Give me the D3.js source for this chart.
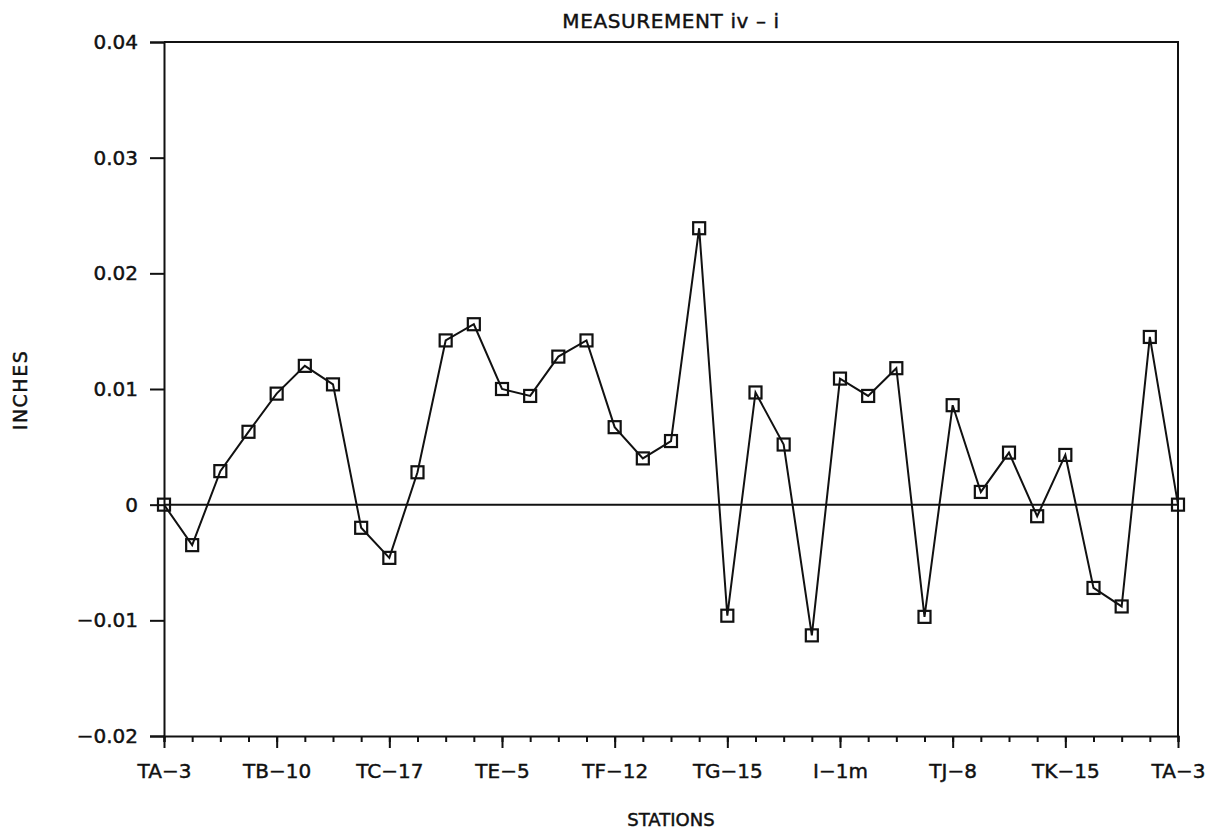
<!DOCTYPE html>
<html>
<head>
<meta charset="utf-8">
<script src="https://d3js.org/d3.v7.min.js"></script>
<style>
  body { margin: 0; background: #fff; }
  svg text { font-family: "DejaVu Sans", sans-serif; fill: #111; stroke: #111; stroke-width: 0.45px; }
</style>
</head>
<body>
<script>
// readings, one per station along the traverse (inches)
var values = [0, -0.0035, 0.0029, 0.0063, 0.0096, 0.0120, 0.0104, -0.0020, -0.0046,
    0.0028, 0.0142, 0.0156, 0.0100, 0.0094, 0.0128, 0.0142, 0.0067, 0.0040, 0.0055,
    0.0239, -0.0096, 0.0097, 0.0052, -0.0113, 0.0109, 0.0094, 0.0118, -0.0097,
    0.0086, 0.0011, 0.0045, -0.0010, 0.0043, -0.0072, -0.0088, 0.0145, 0];
// labelled stations, every 4th point
var stationLabels = ["TA-3", "TB-10", "TC-17", "TE-5", "TF-12", "TG-15", "I-1m", "TJ-8", "TK-15", "TA-3"];
var yTicks = [-0.02, -0.01, 0, 0.01, 0.02, 0.03, 0.04];

var W = 1209, H = 831;
var plotL = 164, plotR = 1178, plotT = 42, plotB = 736;

var svg = d3.select("body").append("svg").attr("width", W).attr("height", H);

var x = d3.scaleLinear().domain([0, values.length - 1]).range([plotL, plotR]);
var y = d3.scaleLinear().domain([-0.02, 0.04]).range([plotB, plotT]);

var dash = function (s) { return s.replace(/-/g, "\u2212"); };

// frame (top + right)
svg.append("path")
    .attr("d", "M" + plotL + "," + y(0.04) + "H" + plotR + "V" + plotB)
    .attr("fill", "none").attr("stroke", "#111").attr("stroke-width", 2);

// zero line
svg.append("line")
    .attr("x1", plotL).attr("x2", plotR)
    .attr("y1", y(0)).attr("y2", y(0))
    .attr("stroke", "#111").attr("stroke-width", 2);

// y axis
var yAxis = svg.append("g")
    .attr("transform", "translate(" + plotL + ",0)")
    .call(d3.axisLeft(y).tickValues(yTicks).tickSize(14).tickPadding(12)
        .tickFormat(function (d) { return d === 0 ? "0" : dash(d3.format(".2f")(d)); }));
yAxis.select(".domain").attr("stroke-width", 2).attr("stroke", "#111");
yAxis.selectAll(".tick line").attr("stroke-width", 2).attr("stroke", "#111");
yAxis.selectAll(".tick text").style("font-size", "20px").attr("font-family", null);

// x axis: minor ticks every station, major with labels every 4th
var minor = d3.range(values.length);
var xMinor = svg.append("g")
    .attr("transform", "translate(0," + plotB + ")")
    .call(d3.axisBottom(x).tickValues(minor).tickSize(6).tickFormat(""));
xMinor.select(".domain").attr("stroke-width", 2).attr("stroke", "#111");
xMinor.selectAll(".tick line").attr("stroke-width", 2).attr("stroke", "#111");

var major = stationLabels.map(function (d, i) { return i * 4; });
var xMajor = svg.append("g")
    .attr("transform", "translate(0," + plotB + ")")
    .call(d3.axisBottom(x).tickValues(major).tickSize(12).tickPadding(16)
        .tickFormat(function (d) { return dash(stationLabels[d / 4]); }));
xMajor.select(".domain").remove();
xMajor.selectAll(".tick line").attr("stroke-width", 2).attr("stroke", "#111");
xMajor.selectAll(".tick text").style("font-size", "20px").attr("font-family", null);

// series line
var line = d3.line()
    .x(function (d, i) { return x(i); })
    .y(function (d) { return y(d); });

svg.append("path")
    .datum(values)
    .attr("d", line)
    .attr("fill", "none")
    .attr("stroke", "#111")
    .attr("stroke-width", 2);

// square markers
var s = 12;
svg.append("g").selectAll("rect")
    .data(values)
    .enter().append("rect")
    .attr("x", function (d, i) { return x(i) - s / 2; })
    .attr("y", function (d) { return y(d) - s / 2; })
    .attr("width", s).attr("height", s)
    .attr("fill", "none")
    .attr("stroke", "#111")
    .attr("stroke-width", 2.2);

// titles
svg.append("text")
    .text("MEASUREMENT iv \u2013 i")
    .attr("x", 671).attr("y", 28)
    .attr("text-anchor", "middle")
    .style("font-size", "20px").style("letter-spacing", "0.6px");

svg.append("text")
    .text("STATIONS")
    .attr("x", 671).attr("y", 826)
    .attr("text-anchor", "middle")
    .style("font-size", "18px");

svg.append("text")
    .text("INCHES")
    .attr("transform", "translate(27,390) rotate(-90)")
    .attr("text-anchor", "middle")
    .style("font-size", "19px").style("letter-spacing", "1.5px");
</script>
</body>
</html>
